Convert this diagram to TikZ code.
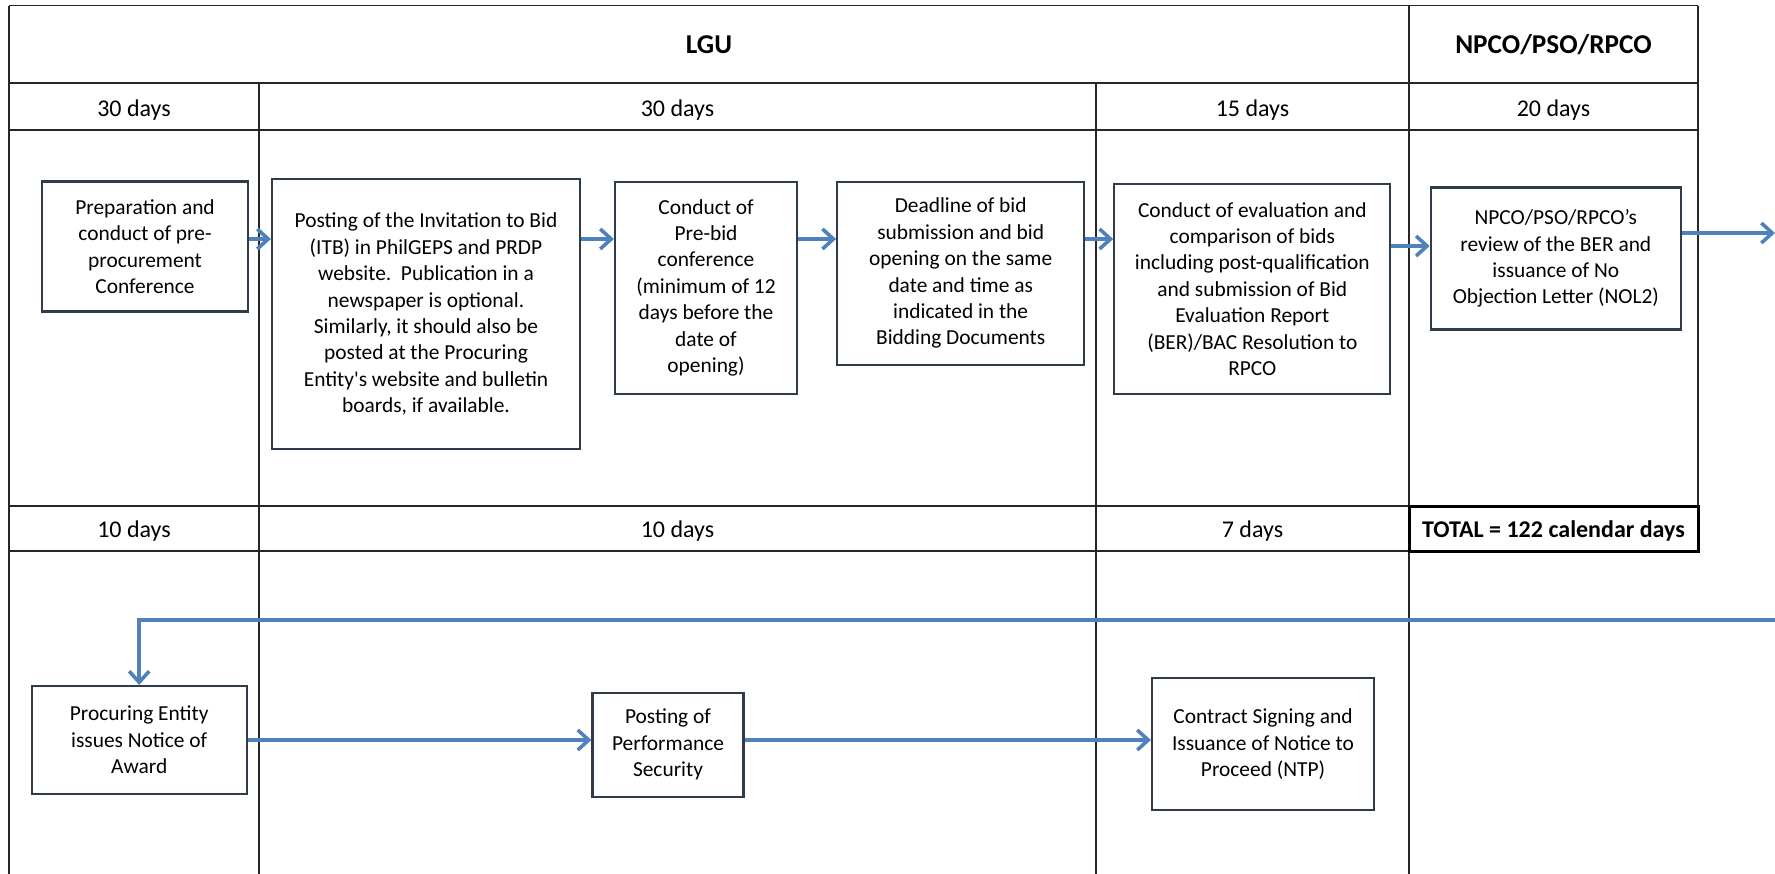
\documentclass[tikz,border=0pt]{standalone}
\usepackage{fontspec}
\setmainfont{Carlito}
\usetikzlibrary{arrows.meta}
\definecolor{flowblue}{RGB}{79,129,189}
\definecolor{boxedge}{RGB}{48,60,74}

\begin{document}
\begin{tikzpicture}[x=0.5pt,y=-0.5pt]
\tikzstyle{grid}=[draw=black!85,line width=0.75pt]
\tikzstyle{cell}=[anchor=base,inner sep=0pt,font=\fontsize{12}{14}\selectfont]
\tikzstyle{title}=[cell,font=\fontsize{13.6}{15}\selectfont\bfseries]
\tikzstyle{stepbox}=[draw=boxedge,line width=1.1pt,align=center,inner sep=0pt,font=\fontsize{10.7}{13.2}\selectfont]
\tikzstyle{flow}=[draw=flowblue,line width=1.8pt,-{Straight Barb[length=5.5pt,width=10pt]}]
\useasboundingbox (0,0) rectangle (1775,873);
\draw[grid] (9,5.5) -- (1698,5.5) (9,83) -- (1698,83) (9,130) -- (1698,130)
  (9,506) -- (1698,506) (9,551) -- (1409,551);
\draw[grid] (9,5.5) -- (9,880) (259,83) -- (259,880) (1096,83) -- (1096,880)
  (1409,5.5) -- (1409,880) (1698,5.5) -- (1698,506);
\draw[line width=1.5pt] (1409,506) rectangle (1698,551);
\node[title] (lgu) at (709,53) {LGU};
\node[title] (npco) at (1553.5,53) {NPCO/PSO/RPCO};
\node[cell] (top1) at (134,116) {30 days};
\node[cell] (top2) at (677.5,116) {30 days};
\node[cell] (top3) at (1252.5,116) {15 days};
\node[cell] (top4) at (1553.5,116) {20 days};
\node[cell] (low1) at (134,537) {10 days};
\node[cell] (low2) at (677.5,537) {10 days};
\node[cell] (low3) at (1252.5,537) {7 days};
\node[cell,font=\fontsize{12}{14}\selectfont\bfseries] (total) at (1553.5,537) {TOTAL = 122 calendar days};
\node[stepbox,minimum width=103pt,minimum height=65pt] (prep) at (145,246.5)
  {Preparation and\\conduct of pre-\\procurement\\Conference};
\node[stepbox,minimum width=154pt,minimum height=135pt] (itb) at (426,314.3)
  {Posting of the Invitation to Bid\\(ITB) in PhilGEPS and PRDP\\website.\ \ Publication in a\\newspaper is optional.\\Similarly, it should also be\\posted at the Procuring\\Entity\textquotesingle s website and bulletin\\boards, if available.};
\node[stepbox,minimum width=91pt,minimum height=106pt] (prebid) at (706,287.8)
  {Conduct of\\Pre-bid\\conference\\(minimum of 12\\days before the\\date of\\opening)};
\node[stepbox,minimum width=123.5pt,minimum height=91.5pt] (deadline) at (960.7,273.3)
  {Deadline of bid\\submission and bid\\opening on the same\\date and time as\\indicated in the\\Bidding Documents};
\node[stepbox,minimum width=138pt,minimum height=105pt] (eval) at (1252.3,289)
  {Conduct of evaluation and\\comparison of bids\\including post-qualification\\and submission of Bid\\Evaluation Report\\(BER)/BAC Resolution to\\RPCO};
\node[stepbox,minimum width=125pt,minimum height=71pt] (nol) at (1555.8,258.5)
  {NPCO/PSO/RPCO’s\\review of the BER and\\issuance of No\\Objection Letter (NOL2)};
\node[stepbox,minimum width=107.5pt,minimum height=54pt] (noa) at (139.2,740)
  {Procuring Entity\\issues Notice of\\Award};
\node[stepbox,minimum width=75.5pt,minimum height=52pt] (perf) at (668,744.7)
  {Posting of\\Performance\\Security};
\node[stepbox,minimum width=111pt,minimum height=66pt] (ntp) at (1263,744.2)
  {Contract Signing and\\Issuance of Notice to\\Proceed (NTP)};
\coordinate (lvl) at (0,239);
\coordinate (lvlb) at (0,246);
\coordinate (exit) at (1775,233);
\coordinate (back) at (1800,620);
\draw[flow] (prep.east |- lvl) -- (itb.west |- lvl);
\draw[flow] (itb.east |- lvl) -- (prebid.west |- lvl);
\draw[flow] (prebid.east |- lvl) -- (deadline.west |- lvl);
\draw[flow] (deadline.east |- lvl) -- (eval.west |- lvl);
\draw[flow] (eval.east |- lvlb) -- (nol.west |- lvlb);
\draw[flow] (nol.east |- exit) -- (exit);
\draw[flow] (back) -| (noa.north);
\draw[flow] (noa.east) -- (noa.east -| perf.west);
\draw[flow] (perf.east |- noa.east) -- (ntp.west |- noa.east);
\end{tikzpicture}
\end{document}
